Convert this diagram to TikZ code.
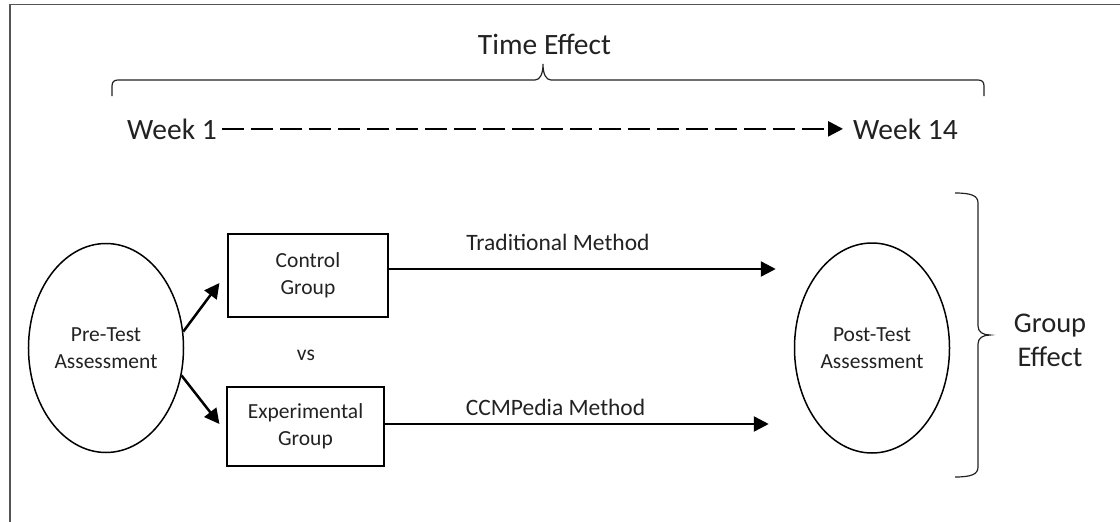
\documentclass[tikz,border=0pt]{standalone}
\usepackage{fontspec}
\setmainfont{Carlito}
\usetikzlibrary{arrows.meta,shapes.geometric}
\definecolor{ink}{HTML}{222222}
\definecolor{frame}{HTML}{555555}
\tikzset{
  bigtxt/.style={font=\fontsize{29.5}{36}\selectfont, text=ink, inner sep=0pt},
  grptxt/.style={font=\fontsize{28.5}{34}\selectfont, text=ink, inner sep=0pt, align=center},
  midtxt/.style={font=\fontsize{23.5}{28}\selectfont, text=ink, inner sep=0pt},
  smalltxt/.style={font=\fontsize{21.5}{27}\selectfont, text=ink, align=center},
  stage/.style={ellipse, draw=black, line width=1.5pt, smalltxt},
  groupbox/.style={rectangle, draw=black, line width=1.1pt, smalltxt},
  arr/.style={draw=black, line width=2.5pt, -{Triangle[length=15pt,width=15pt]}},
  timearr/.style={draw=black, line width=2.5pt, dash pattern=on 22pt off 7pt, -{Triangle[length=15pt,width=15pt]}},
  bracepath/.style={draw=ink, line width=1.2pt}
}
\begin{document}
\begin{tikzpicture}[x=1pt,y=-1pt]
\useasboundingbox (0,0) rectangle (1120,522);
% frame
\draw[frame, line width=1.5pt] (10,522) -- (10,4.5) -- (1120,4.5);

% time axis
\node[bigtxt, anchor=base] (time) at (544.5,54) {Time Effect};
\draw[bracepath] (112,96) -- (112,86) .. controls (112,82) and (114,80) .. (118,80)
  -- (535,80) .. controls (540,80) and (543,74) .. (543,64)
  .. controls (543,74) and (546,80) .. (551,80)
  -- (978,80) .. controls (982,80) and (984,82) .. (984,86) -- (984,96);
\node[bigtxt, anchor=base west] (w1) at (127,139) {Week 1};
\node[bigtxt, anchor=base west] (w14) at (853,139) {Week 14};
\draw[timearr, shorten <=5pt, shorten >=10pt] (w1.east) -- (w14.west);

% assessments and groups
\node[stage, minimum width=151pt, minimum height=209pt] (pre) at (106,348) {Pre-Test\\Assessment};
\node[stage, minimum width=152pt, minimum height=210pt] (post) at (872,348) {Post-Test\\Assessment};
\node[groupbox, minimum width=160pt, minimum height=83pt] (ctrl) at (308,275.5) {Control\\Group};
\node[groupbox, minimum width=157pt, minimum height=79pt] (expt) at (305.5,426.5) {Experimental\\Group};
\node[smalltxt] (vs) at (306,355) {vs};

\draw[arr] (pre.12) -- ([xshift=-8pt,yshift=-7.5pt]ctrl.west);
\draw[arr] (pre.-20) -- ([xshift=-7pt,yshift=2.5pt]expt.west);

\coordinate (t1) at ([yshift=6.5pt]ctrl.east);
\coordinate (t2) at ([yshift=2.5pt]expt.east);
\draw[arr, shorten >=18pt] (t1) -- (t1 -| post.west);
\draw[arr, shorten >=25pt] (t2) -- (t2 -| post.west);
\node[midtxt, anchor=base] (trad) at (558,250) {Traditional Method};
\node[midtxt, anchor=base] (ccm) at (555.5,415.5) {CCMPedia Method};

% group effect
\draw[bracepath] (955,193) .. controls (972,193) and (978,196) .. (978,203)
  -- (978,326) .. controls (978,332) and (983,335) .. (990,335)
  .. controls (983,335) and (978,338) .. (978,344)
  -- (978,467) .. controls (978,474) and (972,477) .. (955,477);
\node[grptxt] (grp) at (1050,340) {Group\\Effect};
\end{tikzpicture}
\end{document}
